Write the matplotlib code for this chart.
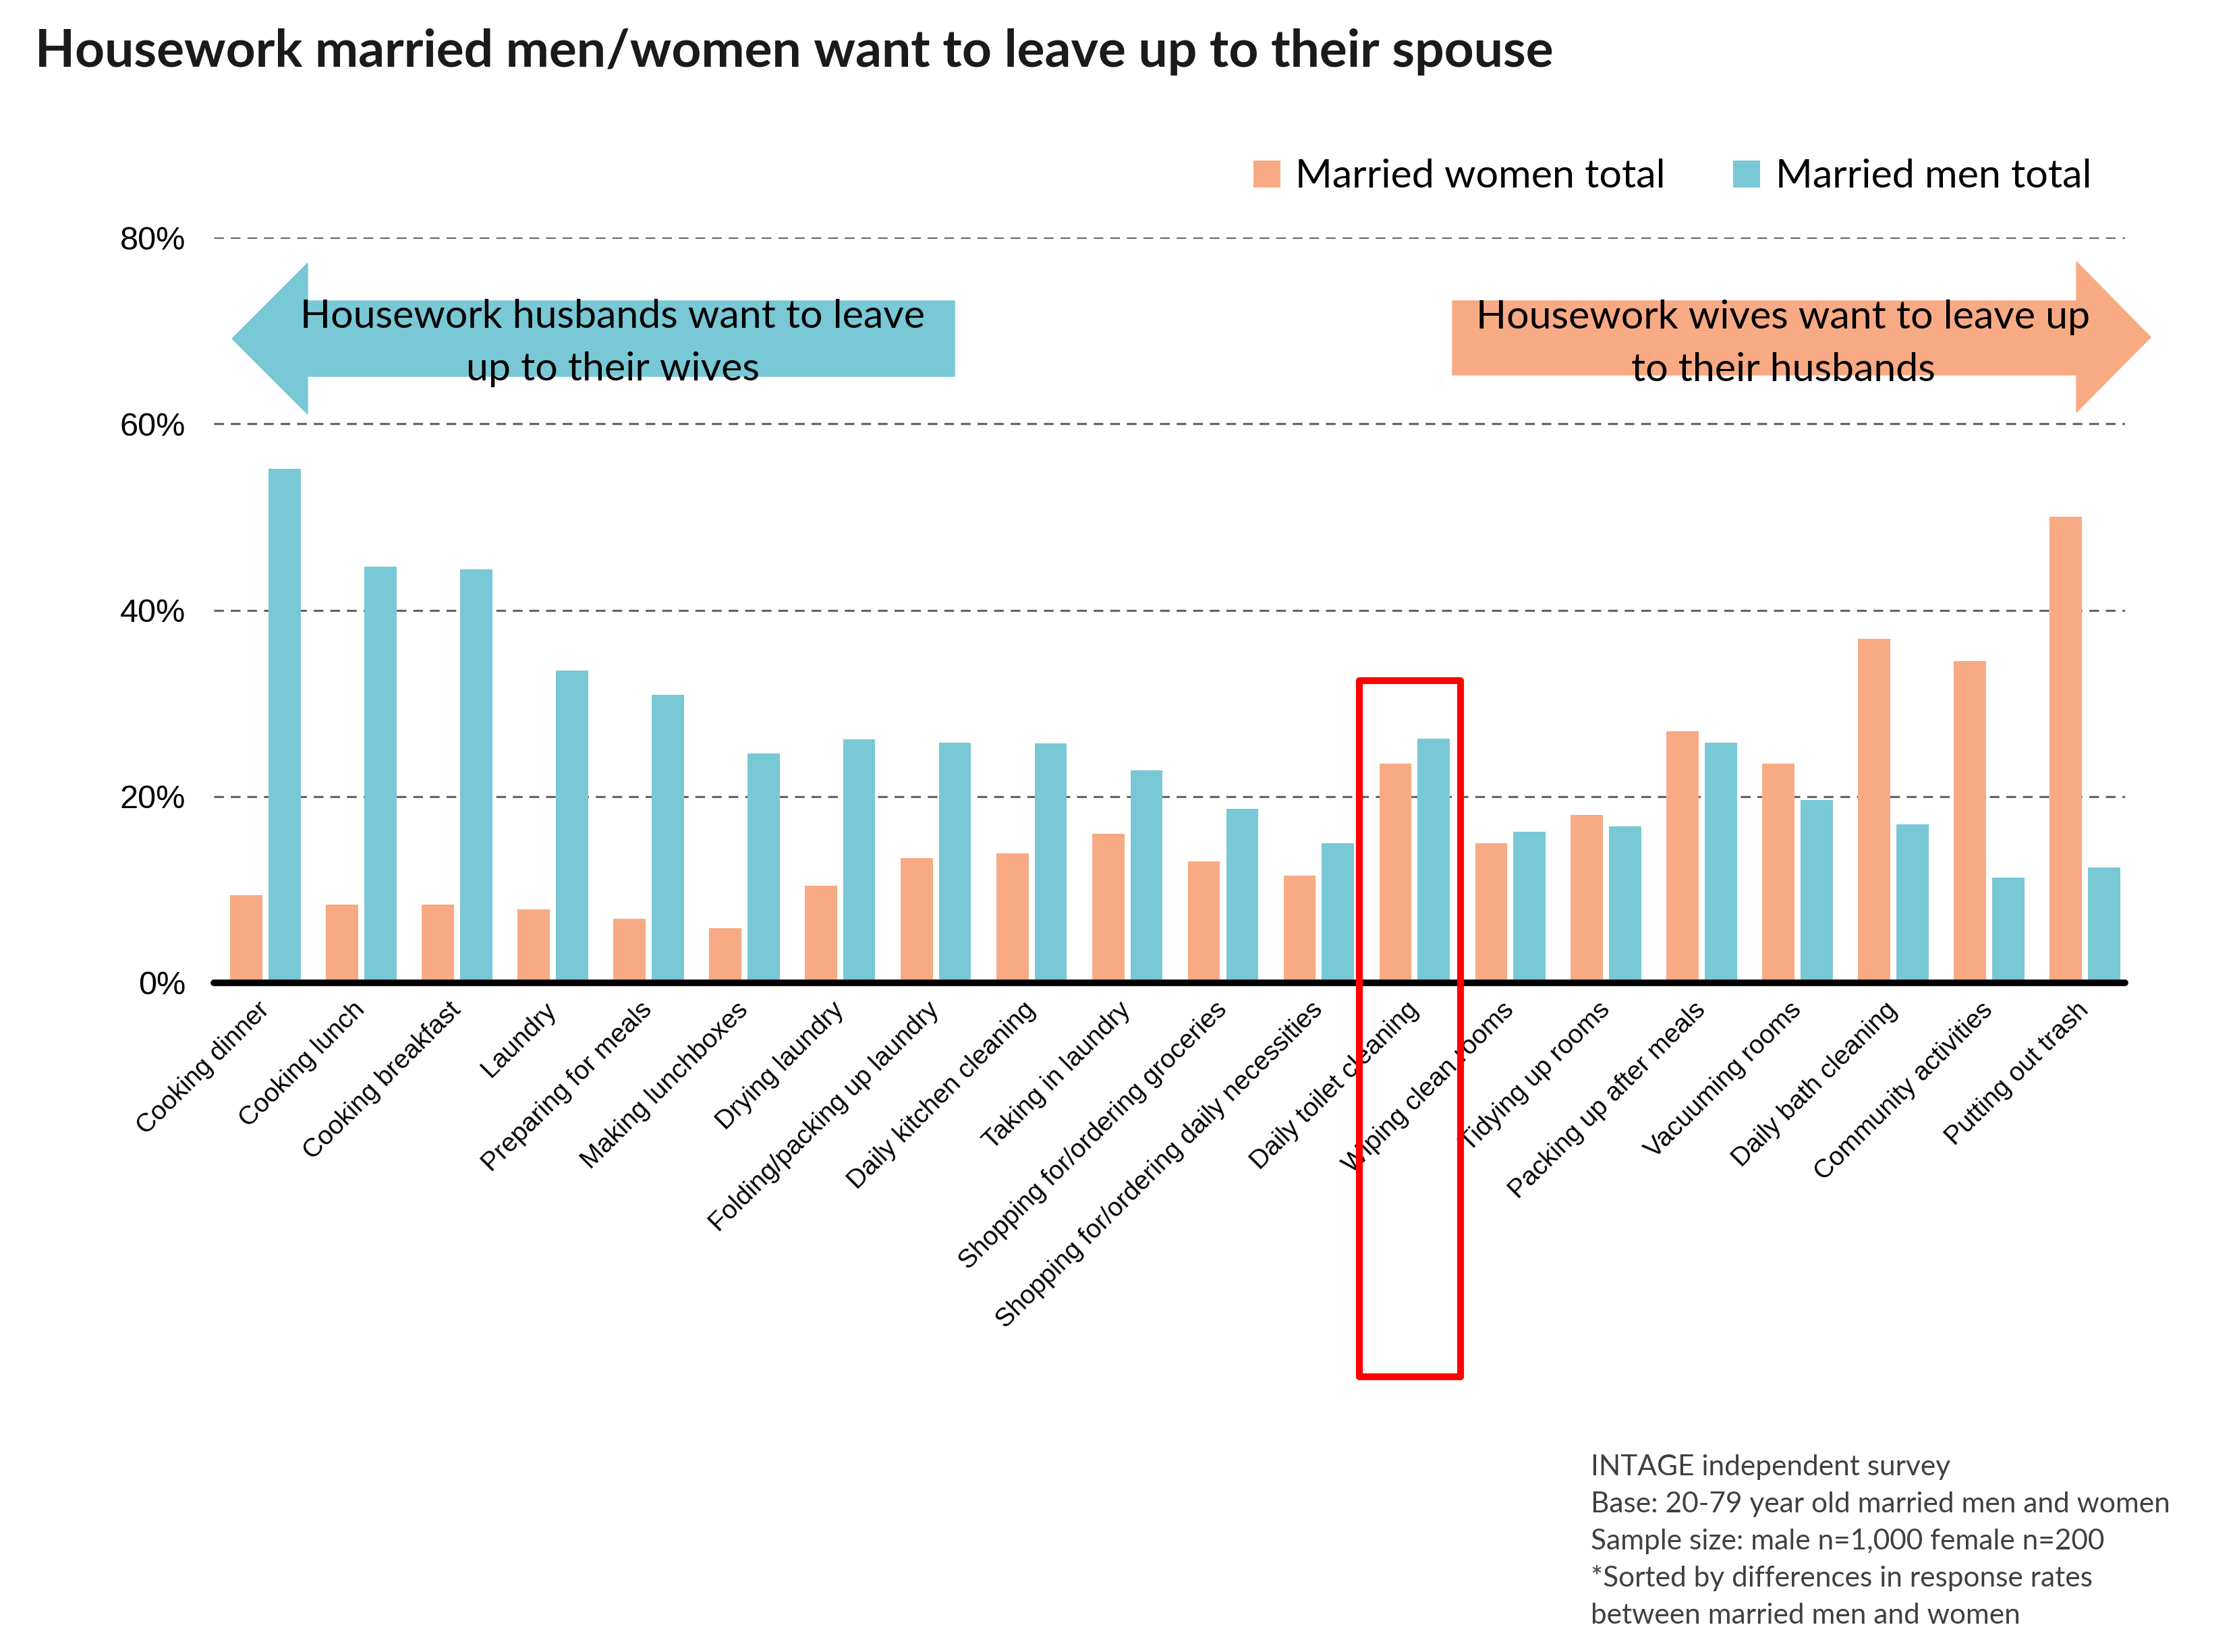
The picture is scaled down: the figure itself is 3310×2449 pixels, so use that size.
import numpy as np
import matplotlib
matplotlib.use('Agg')
import matplotlib.pyplot as plt
from matplotlib.patches import Polygon, Rectangle

# data (percent)
categories = ['Cooking dinner', 'Cooking lunch', 'Cooking breakfast', 'Laundry',
              'Preparing for meals', 'Making lunchboxes', 'Drying laundry',
              'Folding/packing up laundry', 'Daily kitchen cleaning', 'Taking in laundry',
              'Shopping for/ordering groceries', 'Shopping for/ordering daily necessities',
              'Daily toilet cleaning', 'Wiping clean rooms', 'Tidying up rooms',
              'Packing up after meals', 'Vacuuming rooms', 'Daily bath cleaning',
              'Community activities', 'Putting out trash']
women = [9.4, 8.4, 8.4, 7.9, 6.9, 5.9, 10.4, 13.4, 13.9, 16.0,
         13.0, 11.5, 23.5, 15.0, 18.0, 27.0, 23.5, 36.9, 34.5, 50.0]
men = [55.2, 44.7, 44.4, 33.5, 30.9, 24.6, 26.1, 25.8, 25.7, 22.8,
       18.7, 15.0, 26.2, 16.2, 16.8, 25.8, 19.6, 17.0, 11.3, 12.4]
yticks = [0, 20, 40, 60, 80]
ytick_labels = ['0%', '20%', '40%', '60%', '80%']
highlight = 'Daily toilet cleaning'

title = 'Housework married men/women want to leave up to their spouse'
left_arrow_text = ['Housework husbands want to leave', 'up to their wives']
right_arrow_text = ['Housework wives want to leave up', 'to their husbands']
notes = ['INTAGE independent survey',
         'Base: 20-79 year old married men and women',
         'Sample size: male n=1,000 female n=200',
         '*Sorted by differences in response rates',
         'between married men and women']

SALMON = '#F8AA84'
TEAL = '#78C8D6'

W, H = 3310, 2449
fig = plt.figure(figsize=(W / 100, H / 100), dpi=100)
renderer = fig.canvas.get_renderer()


def fp(x, y):
    # pixel position (from top-left) -> figure fraction
    return x / W, 1 - y / H


def fit_size(txt, target, **kw):
    t = fig.text(0, 0, txt, fontsize=40, **kw)
    w = t.get_window_extent(renderer).width
    t.remove()
    return 40 * target / w


ax = fig.add_axes([317 / W, 1 - 1457 / H, (3150 - 317) / W, (1457 - 352) / H])
x = np.arange(len(categories))
ax.bar(x - 0.2, women, 0.336, color=SALMON, label='Married women total', zorder=2)
ax.bar(x + 0.2, men, 0.336, color=TEAL, label='Married men total', zorder=2)

ax.set_xlim(-0.54, 19.42)
ax.set_ylim(0, 80)
ax.set_yticks(yticks)
ax.set_yticklabels(ytick_labels, fontsize=35, family='Liberation Sans')
ax.set_xticks(x)
ax.set_xticklabels(categories, rotation=45, ha='right', va='center',
                   rotation_mode='anchor', fontsize=28, family='Liberation Sans')
ax.tick_params(axis='x', length=0, pad=25)
ax.tick_params(axis='y', length=0, pad=30)
for s in ['left', 'right', 'top']:
    ax.spines[s].set_visible(False)
ax.spines['bottom'].set_linewidth(7)
ax.spines['bottom'].set_capstyle('round')
ax.spines['bottom'].set_zorder(3)
ax.yaxis.grid(True, linestyle=(0, (4.5, 3.2)), color='#666666', linewidth=2.3)
ax.set_axisbelow(True)

# red box around the highlighted category
hi = categories.index(highlight)
ax.add_patch(Rectangle((hi - 0.58, -42.3), 1.06, 74.7, fill=False, edgecolor='#FF0000',
                       linewidth=7.3, clip_on=False, zorder=5, joinstyle='round'))

# legend
leg_fs = fit_size('Married women total', 549, family='Lato')
ax.legend(loc='center right', bbox_to_anchor=(3100 / W, 1 - 262 / H),
          bbox_transform=fig.transFigure, ncol=2, frameon=False,
          prop={'family': 'Lato', 'size': leg_fs}, handlelength=0.67, handleheight=0.67,
          handletextpad=0.38, columnspacing=1.7, borderpad=0, borderaxespad=0)

# title
fs = fit_size(title, 2251, family='Lato', fontweight='bold')
fig.text(*fp(52, 99), title, family='Lato', fontweight='bold', fontsize=fs,
         color='#1a1a1a', va='baseline', ha='left')

# direction arrows
left_pts = [(344, 502), (456, 390), (456, 446), (1415, 446), (1415, 558),
            (456, 558), (456, 614)]
right_pts = [(2153, 446), (3078, 446), (3078, 388), (3188, 500), (3078, 611),
             (3078, 556), (2153, 556)]
fig.patches.append(Polygon([fp(*p) for p in left_pts], closed=True, color=TEAL,
                           transform=fig.transFigure, figure=fig))
fig.patches.append(Polygon([fp(*p) for p in right_pts], closed=True, color=SALMON,
                           transform=fig.transFigure, figure=fig))
afs = fit_size(left_arrow_text[0], 926, family='Lato')
for i, line in enumerate(left_arrow_text):
    fig.text(*fp(908, 486 + i * 78), line, family='Lato', fontsize=afs,
             ha='center', va='baseline', color='black')
for i, line in enumerate(right_arrow_text):
    fig.text(*fp(2643, 487 + i * 78), line, family='Lato', fontsize=afs,
             ha='center', va='baseline', color='black')

# footnote
nfs = fit_size(notes[1], 857, family='Lato')
for i, line in enumerate(notes):
    fig.text(*fp(2358, 2187 + i * 55), line, family='Lato', fontsize=nfs,
             ha='left', va='baseline', color='#404040')

fig.savefig('out.png', dpi=100)
